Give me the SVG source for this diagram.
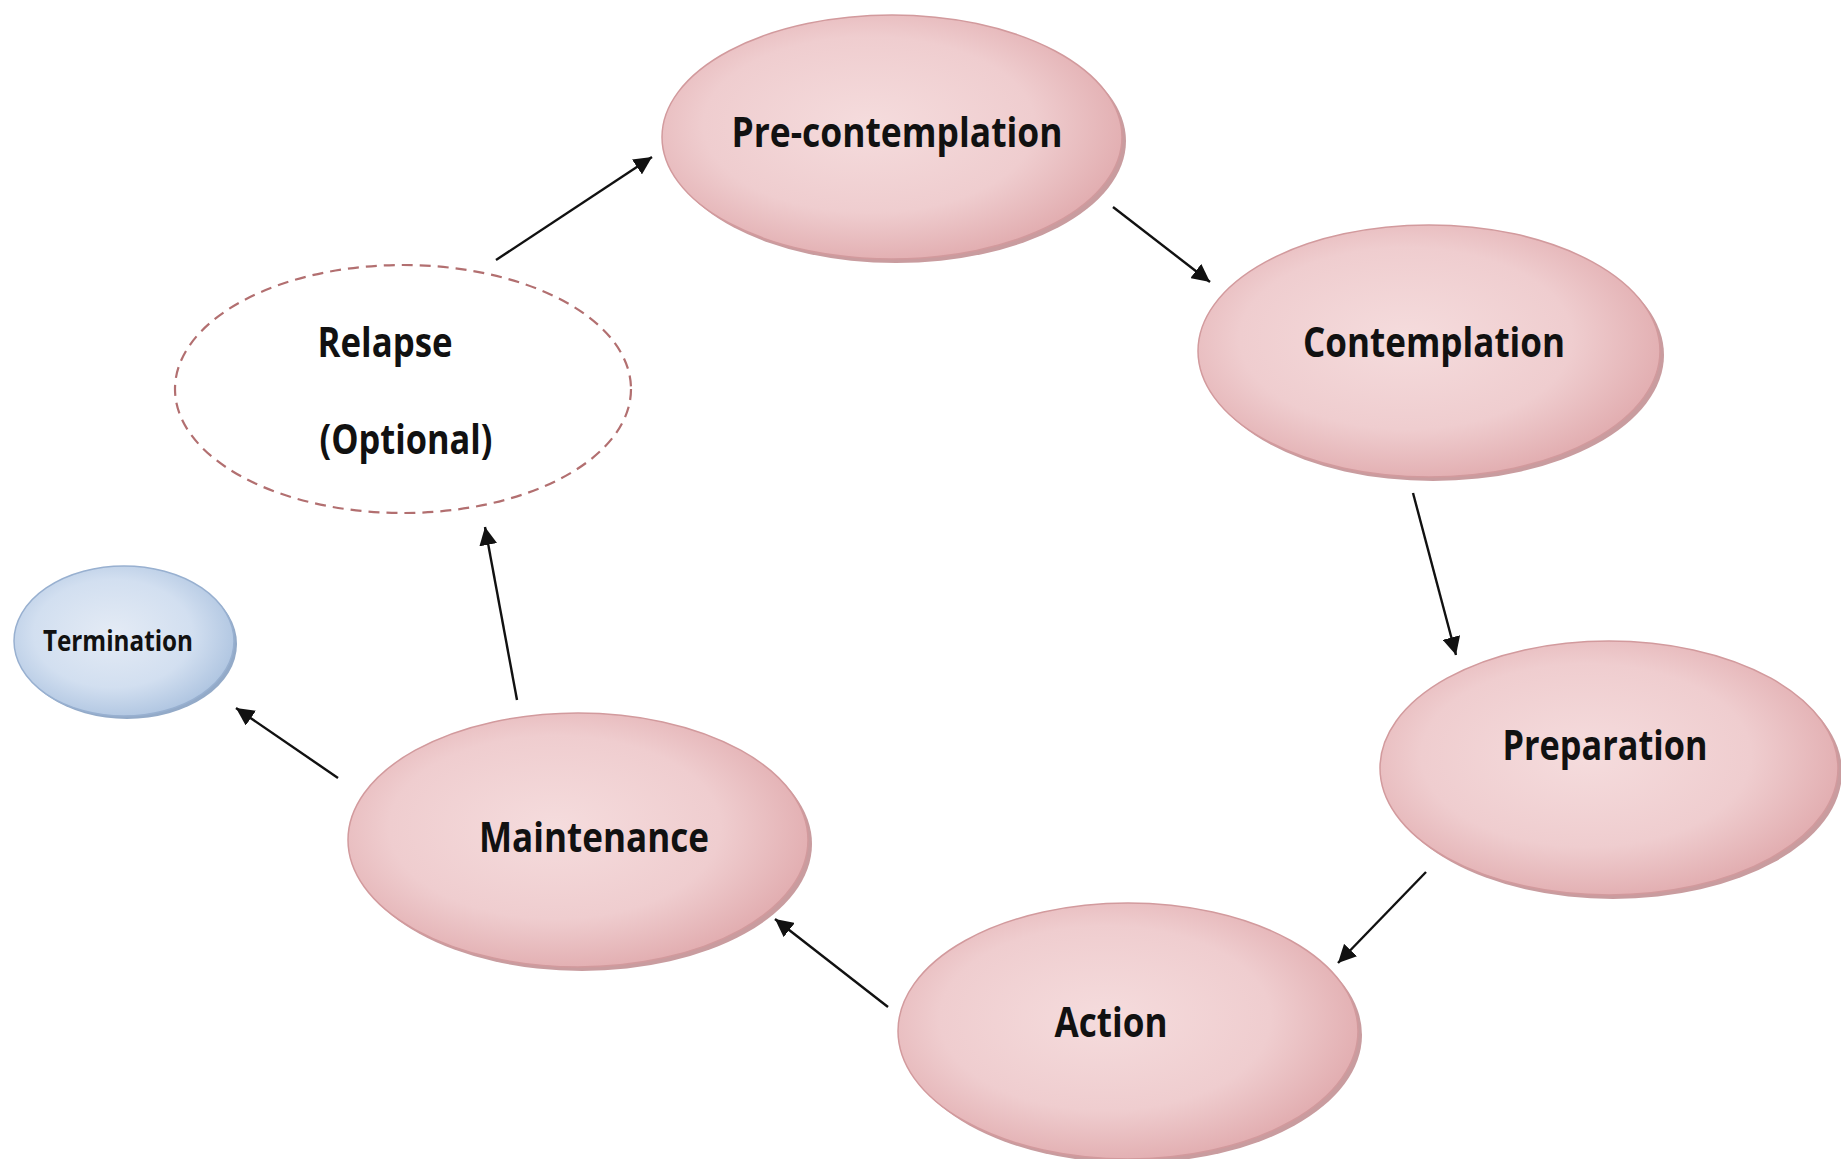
<svg xmlns="http://www.w3.org/2000/svg" width="1841" height="1159" viewBox="0 0 1841 1159">
<defs>
<radialGradient id="pink" cx="0.45" cy="0.45" r="0.6">
<stop offset="0" stop-color="#f5dcdd"/>
<stop offset="0.6" stop-color="#efcdcf"/>
<stop offset="1" stop-color="#e0a9ac"/>
</radialGradient>
<radialGradient id="blue" cx="0.45" cy="0.45" r="0.6">
<stop offset="0" stop-color="#e4ebf5"/>
<stop offset="0.6" stop-color="#d2dff0"/>
<stop offset="1" stop-color="#abc2df"/>
</radialGradient>
<marker id="ah" viewBox="0 0 10 10" refX="10" refY="5" markerWidth="7.5" markerHeight="7.5" orient="auto" markerUnits="strokeWidth">
<path d="M0,0 L10,5 L0,10 z" fill="#111"/>
</marker>
</defs>
<style>
.sh{fill:#c99c9f}
.pk{fill:url(#pink);stroke:#d29a9d;stroke-width:1.5}
.shb{fill:#93aac8}
.bl{fill:url(#blue);stroke:#98b0d0;stroke-width:1.5}
.dash{fill:#fff;stroke:#b26f70;stroke-width:2.2;stroke-dasharray:11 7}
.t{font-family:"Open Sans","Liberation Sans",sans-serif;font-weight:bold;fill:#111;text-anchor:middle}
.c{stroke:#111;stroke-width:2.4;fill:none;marker-end:url(#ah)}
</style>
<rect width="1841" height="1159" fill="#fff"/>
<g id="connectors">
<line class="c" x1="496" y1="260" x2="652" y2="157"/>
<line class="c" x1="1113" y1="207" x2="1210" y2="282"/>
<line class="c" x1="1413" y1="493" x2="1456" y2="655"/>
<line class="c" x1="1426" y1="872" x2="1338" y2="963"/>
<line class="c" x1="888" y1="1007" x2="775" y2="919"/>
<line class="c" x1="517" y1="700" x2="485" y2="527"/>
<line class="c" x1="338" y1="778" x2="236" y2="708"/>
</g>
<g id="precontemplation">
<ellipse class="sh" cx="896" cy="141" rx="230" ry="122"/>
<ellipse class="pk" cx="892" cy="137" rx="230" ry="122"/>
<text class="t" x="897" y="147" font-size="42" textLength="331" lengthAdjust="spacingAndGlyphs">Pre-contemplation</text>
</g>
<g id="contemplation">
<ellipse class="sh" cx="1433" cy="355" rx="231" ry="126"/>
<ellipse class="pk" cx="1429" cy="351" rx="231" ry="126"/>
<text class="t" x="1434" y="357" font-size="42" textLength="262" lengthAdjust="spacingAndGlyphs">Contemplation</text>
</g>
<g id="preparation">
<ellipse class="sh" cx="1613" cy="772" rx="229" ry="127"/>
<ellipse class="pk" cx="1609" cy="768" rx="229" ry="127"/>
<text class="t" x="1605" y="760" font-size="42" textLength="205" lengthAdjust="spacingAndGlyphs">Preparation</text>
</g>
<g id="action">
<ellipse class="sh" cx="1132" cy="1035" rx="230" ry="128"/>
<ellipse class="pk" cx="1128" cy="1031" rx="230" ry="128"/>
<text class="t" x="1111" y="1037" font-size="42" textLength="113" lengthAdjust="spacingAndGlyphs">Action</text>
</g>
<g id="maintenance">
<ellipse class="sh" cx="582" cy="844" rx="230" ry="127"/>
<ellipse class="pk" cx="578" cy="840" rx="230" ry="127"/>
<text class="t" x="594" y="852" font-size="42" textLength="230" lengthAdjust="spacingAndGlyphs">Maintenance</text>
</g>
<g id="relapse">
<ellipse class="dash" cx="403" cy="389" rx="228" ry="124"/>
<text class="t" x="385" y="357" font-size="42" textLength="135" lengthAdjust="spacingAndGlyphs">Relapse</text>
<text class="t" x="406" y="454" font-size="42" textLength="173" lengthAdjust="spacingAndGlyphs">(Optional)</text>
</g>
<g id="termination">
<ellipse class="shb" cx="127" cy="644" rx="110" ry="75"/>
<ellipse class="bl" cx="124" cy="641" rx="110" ry="75"/>
<text class="t" x="118" y="651" font-size="28" textLength="150" lengthAdjust="spacingAndGlyphs">Termination</text>
</g>
</svg>
